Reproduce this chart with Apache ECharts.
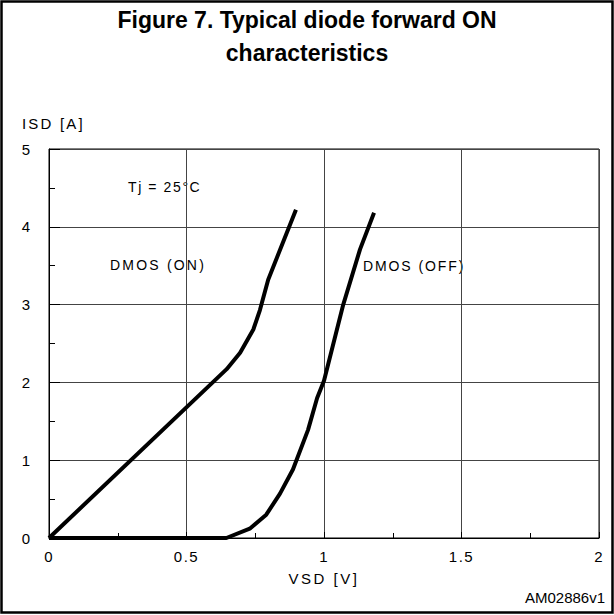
<!DOCTYPE html>
<html><head><meta charset="utf-8">
<script src="https://cdn.jsdelivr.net/npm/echarts@6/dist/echarts.min.js"></script>
<style>html,body{margin:0;padding:0;background:#fff}#c{width:614px;height:615px}</style>
</head><body><div id="c"></div>
<script>
const xTicks = [0, 0.5, 1, 1.5, 2];
const yTicks = [0, 1, 2, 3, 4, 5];
const dmosOn = [[0,0],[0.646,2.17],[0.695,2.38],[0.743,2.68],[0.767,2.93],[0.797,3.32],[0.898,4.22]];
const dmosOff = [[0,0],[0.645,0],[0.73,0.12],[0.79,0.3],[0.84,0.57],[0.887,0.88],[0.942,1.39],[0.975,1.8],[1.0,2.02],[1.07,3.0],[1.131,3.71],[1.182,4.18]];
const F = 'Liberation Sans, Arial, sans-serif';
const spaced = {'ISD [A]':2.2, 'VSD [V]':2.5, 'Tj = 25°C':1.6, 'DMOS (ON)':2.2, 'DMOS (OFF)':1.9,
  '0':1, '0.5':1.5, '1':1, '1.5':1.5, '2':1, '3':1, '4':1, '5':1};
const chart = echarts.init(document.getElementById('c'), null, {renderer:'svg'});
chart.setOption({
  animation:false,
  title:{text:'Figure 7. Typical diode forward ON\ncharacteristics', left:'center', top:3, padding:0,
    textStyle:{fontFamily:F, fontSize:23, fontWeight:'bold', color:'#000', lineHeight:33}},
  grid:{left:49, right:15, top:149, bottom:77, show:true, borderColor:'#000', borderWidth:1},
  xAxis:{type:'value', min:xTicks[0], max:xTicks[xTicks.length-1], interval:0.5,
    name:'VSD [V]', nameLocation:'middle', nameGap:33,
    nameTextStyle:{fontFamily:F, fontSize:15, color:'#000'},
    axisLine:{lineStyle:{color:'#000', width:1}},
    axisTick:{show:true, inside:true, length:6, lineStyle:{color:'#000'}},
    minorTick:{show:true, splitNumber:2, length:5, lineStyle:{color:'#000'}},
    splitLine:{show:true, lineStyle:{color:'#444', width:1}},
    axisLabel:{fontFamily:F, fontSize:15, color:'#000', margin:11}},
  yAxis:{type:'value', min:yTicks[0], max:yTicks[yTicks.length-1], interval:1,
    axisLine:{show:true, lineStyle:{color:'#000', width:1}},
    axisTick:{show:true, inside:true, length:11, lineStyle:{color:'#000'}},
    minorTick:{show:true, splitNumber:2, length:6, lineStyle:{color:'#000'}},
    splitLine:{show:true, lineStyle:{color:'#444', width:1}},
    axisLabel:{fontFamily:F, fontSize:15, color:'#000', margin:18}},
  graphic:[
    {type:'rect', shape:{x:1.5, y:1.5, width:611, height:611}, style:{fill:'none', stroke:'#000', lineWidth:2.5}, silent:true},
    {type:'rect', shape:{x:120, y:158, width:88, height:39}, style:{fill:'#fff'}, silent:true},
    {type:'text', left:22, top:116, style:{text:'ISD [A]', font:'15px '+F, fill:'#000'}},
    {type:'text', right:9, top:590, style:{text:'AM02886v1', font:'15px '+F, fill:'#000'}},
    {type:'text', left:128, top:180, style:{text:'Tj = 25°C', font:'14px '+F, fill:'#000'}},
    {type:'text', left:110, top:258, style:{text:'DMOS (ON)', font:'14px '+F, fill:'#000'}},
    {type:'text', left:363, top:259, style:{text:'DMOS (OFF)', font:'14px '+F, fill:'#000'}}
  ],
  series:[
    {name:'DMOS (ON)', type:'line', data:dmosOn, showSymbol:false, lineStyle:{color:'#000', width:4}, z:5},
    {name:'DMOS (OFF)', type:'line', data:dmosOff, showSymbol:false, lineStyle:{color:'#000', width:4}, z:5}
  ]
});
function applySpacing(){
  document.querySelectorAll('#c svg text').forEach(t => {
    const s = spaced[t.textContent];
    if (s !== undefined) t.style.letterSpacing = s + 'px';
  });
}
applySpacing();
chart.on('finished', applySpacing);
</script></body></html>
